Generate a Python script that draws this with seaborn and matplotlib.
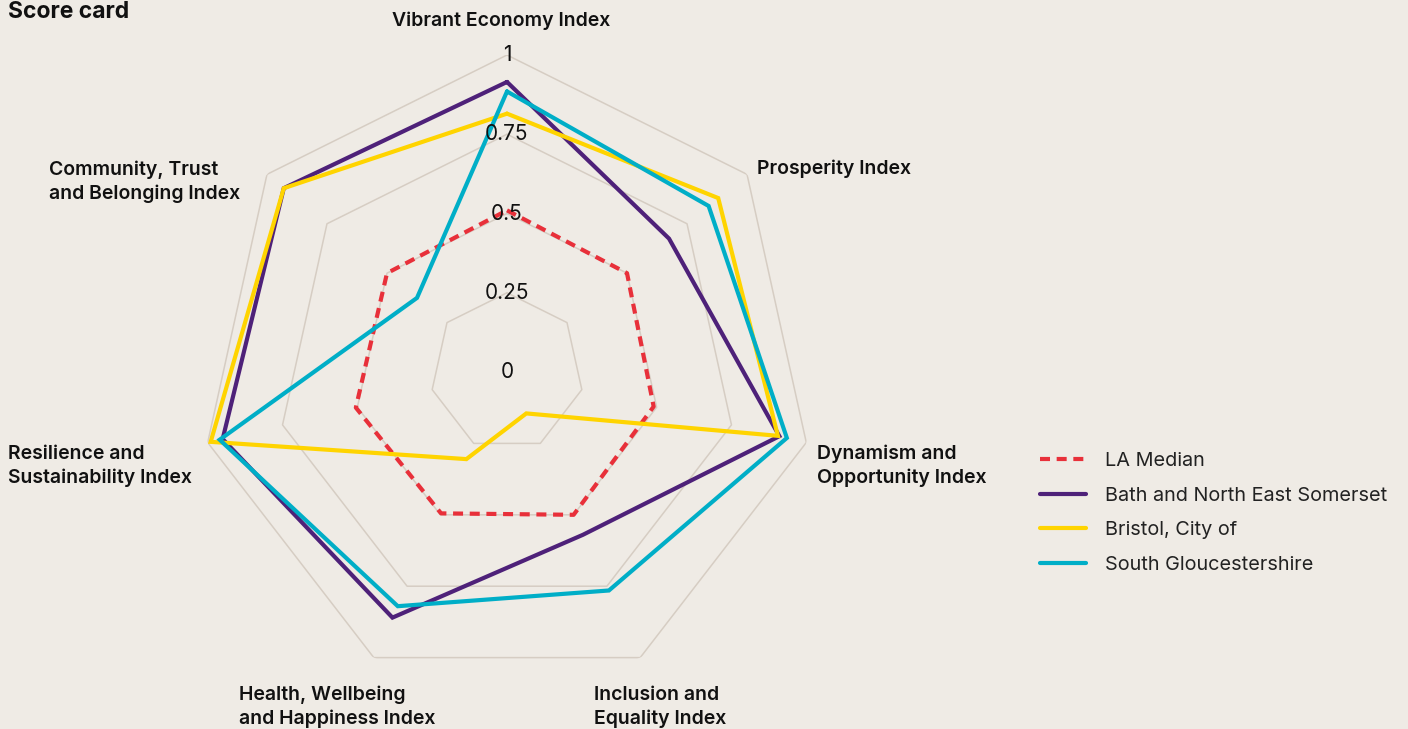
import numpy as np
import pandas as pd
import matplotlib
matplotlib.use("Agg")
import matplotlib.pyplot as plt
import seaborn as sns

# index names, clockwise from the top
categories = [
    "Vibrant Economy Index",
    "Prosperity Index",
    "Dynamism and\nOpportunity Index",
    "Inclusion and\nEquality Index",
    "Health, Wellbeing\nand Happiness Index",
    "Resilience and\nSustainability Index",
    "Community, Trust\nand Belonging Index",
]
series_names = ["LA Median", "Bath and North East Somerset", "Bristol, City of", "South Gloucestershire"]
la_median = [0.51, 0.50, 0.49, 0.50, 0.495, 0.505, 0.50]
bath = [0.915, 0.675, 0.91, 0.57, 0.86, 0.95, 0.93]
bristol = [0.815, 0.88, 0.905, 0.145, 0.305, 0.99, 0.93]
south_glos = [0.885, 0.84, 0.935, 0.765, 0.82, 0.96, 0.375]
ring_values = [0.25, 0.5, 0.75, 1.0]
ring_labels = ["0", "0.25", "0.5", "0.75", "1"]

colors = ["#E8303A", "#4E2179", "#FFD400", "#00AEC7"]
bg = "#EFEBE5"
grid_col = "#D6CDC3"

sns.set_theme(style="white")
plt.rcParams['font.family'] = ['Inter', 'DejaVu Sans']

n = len(categories)
angles = np.linspace(0, 2 * np.pi, n, endpoint=False)
angles_closed = np.append(angles, 2 * np.pi)

rows = []
for name, vals in zip(series_names, [la_median, bath, bristol, south_glos]):
    for a, v in zip(angles_closed, list(vals) + [vals[0]]):
        rows.append([name, a, v])
df = pd.DataFrame(rows, columns=["area", "theta", "score"])

fig = plt.figure(figsize=(14.08, 7.29), dpi=100, facecolor=bg)
ax = fig.add_axes([200 / 1408, 40 / 729, 614 / 1408, 634 / 729], projection="polar")
ax.set_facecolor("none")
ax.set_theta_zero_location("N")
ax.set_theta_direction(-1)

sns.lineplot(data=df, x="theta", y="score", hue="area", style="area",
             hue_order=series_names, style_order=series_names,
             palette=colors, dashes={series_names[0]: (2.4, 1.6), series_names[1]: "",
                                     series_names[2]: "", series_names[3]: ""},
             sort=True, estimator=None, linewidth=3, legend=False, ax=ax, zorder=3)
data_lines = list(ax.lines)
for ln in data_lines:
    ln.set_solid_joinstyle("miter")
    ln.set_dash_capstyle("butt")

# heptagon grid rings
for v in ring_values:
    ax.plot(angles_closed, [v] * len(angles_closed), color=grid_col, lw=1.1, zorder=1)

ax.set_ylim(0, 1)
ax.set_xticks([])
ax.set_yticks([])
ax.grid(False)
ax.spines["polar"].set_visible(False)
ax.set_xlabel("")
ax.set_ylabel("")
ax.set_aspect("auto")

for v, lab in zip([0] + ring_values, ring_labels):
    ax.text(0, v, lab, ha="center", va="center", fontsize=15, color="#111111", zorder=5)

# category labels (pixel positions from the top-left)
label_pos = [
    (501, 21, "center"),
    (757, 169, "left"),
    (817, 466, "left"),
    (594, 707, "left"),
    (239, 707, "left"),
    (8, 466, "left"),
    (49, 182, "left"),
]
for lab, (px, py, ha) in zip(categories, label_pos):
    fig.text(px / 1408, 1 - py / 729, lab, ha=ha, va="center", fontsize=14,
             fontweight="semibold", color="#111111", linespacing=1.38)

fig.text(8 / 1408, 1 - 12 / 729, "Score card", ha="left", va="center",
         fontsize=16.5, fontweight="bold", color="#111111")

leg = fig.legend(data_lines, series_names, loc="upper left",
                 bbox_to_anchor=(1040 / 1408, 1 - 452 / 729), frameon=False,
                 fontsize=14.3, handlelength=2.3, handletextpad=0.95,
                 labelspacing=0.84, borderpad=0, borderaxespad=0)
for t in leg.get_texts():
    t.set_color("#222222")

fig.savefig("out.png", dpi=100, facecolor=bg)
